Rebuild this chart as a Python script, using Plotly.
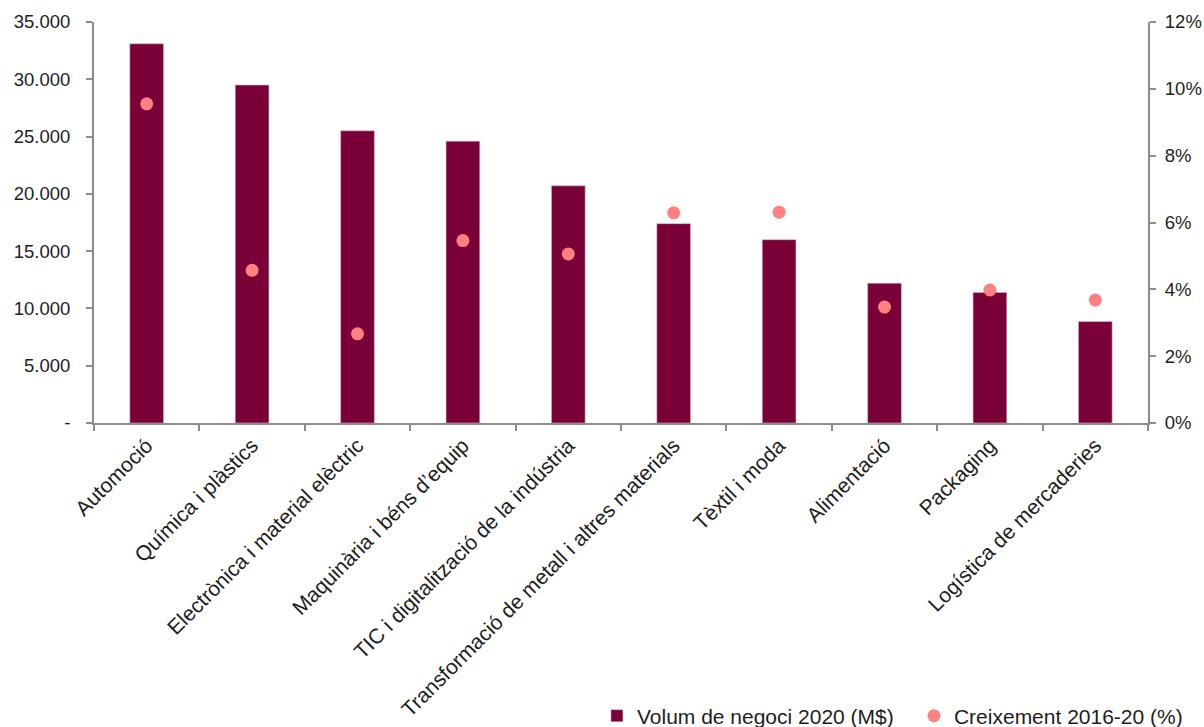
import plotly.graph_objects as go

categories = [
    "Automoció",
    "Química i plàstics",
    "Electrònica i material elèctric",
    "Maquinària i béns d’equip",
    "TIC i digitalització de la indústria",
    "Transformació de metall i altres materials",
    "Tèxtil i moda",
    "Alimentació",
    "Packaging",
    "Logística de mercaderies",
]
volum_2020 = [33100, 29500, 25500, 24600, 20700, 17400, 16000, 12200, 11400, 8850]
creixement = [0.0955, 0.0457, 0.0267, 0.0546, 0.0506, 0.0629, 0.0631, 0.0347, 0.0398, 0.0368]

left_ticks = [0, 5000, 10000, 15000, 20000, 25000, 30000, 35000]
left_ticktext = ["-", "5.000", "10.000", "15.000", "20.000", "25.000", "30.000", "35.000"]
right_ticks = [0, 0.02, 0.04, 0.06, 0.08, 0.10, 0.12]
right_ticktext = ["0%", "2%", "4%", "6%", "8%", "10%", "12%"]

BAR = "#7a0038"
DOT = "#ff8080"
AXIS = "#8c8c8c"
TXT = "#1e1e1e"
FONT = "Liberation Sans, Arial, sans-serif"

fig = go.Figure()
fig.add_trace(go.Bar(
    x=categories, y=volum_2020, name="Volum de negoci 2020 (M$)",
    marker=dict(color=BAR, line=dict(color="#d8b8c4", width=0.6)),
    yaxis="y",
))
fig.add_trace(go.Scatter(
    x=categories, y=creixement, name="Creixement 2016-20 (%)",
    mode="markers", marker=dict(color=DOT, size=13),
    yaxis="y2",
))

fig.update_layout(
    width=1204, height=727,
    margin=dict(l=94, r=56, t=22, b=304, autoexpand=False),
    paper_bgcolor="white", plot_bgcolor="white",
    font=dict(family=FONT, size=18.5, color=TXT),
    bargap=0.68,
    showlegend=True,
    legend=dict(
        orientation="h", xref="container", yref="container",
        x=0.4958, xanchor="left", y=0.0151, yanchor="middle",
        font=dict(size=21, color=TXT), entrywidth=272, traceorder="normal",
        bgcolor="rgba(0,0,0,0)",
    ),
    xaxis=dict(
        showline=True, linecolor=AXIS, linewidth=2,
        ticks="outside", tickson="boundaries", ticklen=6, tickcolor=AXIS, tickwidth=2,
        tickangle=-45, showgrid=False, tickfont=dict(size=21),
        range=[-0.5, 9.5], automargin=False,
    ),
    yaxis=dict(
        range=[0, 35000], tickvals=left_ticks, ticktext=left_ticktext,
        showline=True, linecolor=AXIS, linewidth=2,
        ticks="outside", ticklen=6, tickcolor=AXIS, tickwidth=2,
        showgrid=False, zeroline=False, tickfont=dict(size=18.5),
        ticklabelstandoff=12, automargin=False,
    ),
    yaxis2=dict(
        range=[0, 0.12], tickvals=right_ticks,
        ticktext=["\u00a0" + t for t in right_ticktext],
        overlaying="y", side="right", anchor="x",
        showline=True, linecolor=AXIS, linewidth=2,
        ticks="outside", ticklen=6, tickcolor=AXIS, tickwidth=2,
        showgrid=False, zeroline=False, tickfont=dict(size=18.5),
        automargin=False,
    ),
)

fig.write_html(
    "out.html",
    config={"displayModeBar": False},
    post_script="document.body.style.margin='0';document.body.style.overflow='hidden';",
)
